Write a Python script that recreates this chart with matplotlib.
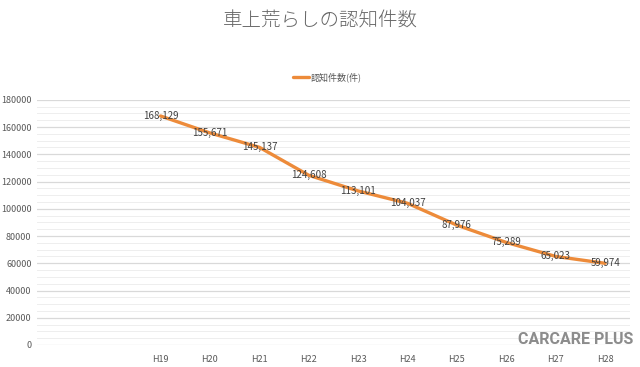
import matplotlib
matplotlib.use("Agg")
import matplotlib.pyplot as plt
from matplotlib.ticker import MultipleLocator

plt.rcParams['font.family'] = ['Noto Sans CJK JP', 'DejaVu Sans']

# data
years = ["H19", "H20", "H21", "H22", "H23", "H24", "H25", "H26", "H27", "H28"]
counts = [168129, 155671, 145137, 124608, 113101, 104037, 87976, 75289, 65023, 59974]
n_empty = 2  # two blank category slots before H19

orange = "#ED8B3A"
text_gray = "#595959"

fig = plt.figure(figsize=(6.4, 3.67), dpi=100)
ax = fig.add_axes([0.058, 0.06, 0.926, 0.668])

xs = list(range(n_empty, n_empty + len(years)))
ax.plot(xs, counts, color=orange, linewidth=2.4, solid_capstyle="round",
        label="認知件数(件)", zorder=3)

for x, v in zip(xs, counts):
    ax.text(x, v, f"{v:,}", ha="center", va="center", fontsize=7,
            color="#404040", zorder=4)

ax.set_xlim(-0.5, n_empty + len(years) - 0.5)
ax.set_ylim(0, 180000)
ax.set_xticks(xs)
ax.set_xticklabels(years)
ax.yaxis.set_major_locator(MultipleLocator(20000))
ax.yaxis.set_minor_locator(MultipleLocator(5000))
ax.grid(which="major", axis="y", color="#D9D9D9", linewidth=0.9)
ax.grid(which="minor", axis="y", color="#EEEEEE", linewidth=0.7)
ax.set_axisbelow(True)
ax.tick_params(axis="both", which="both", length=0, labelsize=6.5,
               labelcolor=text_gray)
ax.tick_params(axis="x", pad=7)
ax.tick_params(axis="y", pad=4)
for s in ax.spines.values():
    s.set_visible(False)

fig.text(0.5, 0.943, "車上荒らしの認知件数", ha="center", va="center",
         fontsize=14, color="#666666", fontweight="light")

ax.legend(loc="center", bbox_to_anchor=(0.49, 1.09), frameon=False,
          fontsize=6.5, labelcolor=text_gray, handlelength=1.8,
          handletextpad=0.2)

# watermark
fig.text(0.99, 0.075, "CARCARE PLUS", ha="right", va="center",
         fontsize=11.5, fontweight="bold", color="#8C8C8C",
         family=["Roboto", "DejaVu Sans"])

fig.savefig("out.png", dpi=100)
